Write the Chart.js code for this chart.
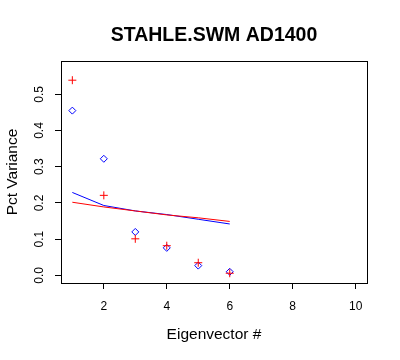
<!DOCTYPE html>
<html>
<head>
<meta charset="utf-8">
<script src="https://cdn.jsdelivr.net/npm/chart.js@4/dist/chart.umd.min.js"></script>
<style>
  html, body { margin: 0; padding: 0; background: #fff; }
  #wrap { width: 400px; height: 360px; }
</style>
</head>
<body>
<div id="wrap"><canvas id="chart" width="400" height="360"></canvas></div>
<script>
// ── Data ─────────────────────────────────────────────────────
const eigenX     = [1, 2, 3, 4, 5, 6];
const redPoints  = [0.539, 0.221, 0.101, 0.082, 0.035, 0.006];
const bluePoints = [0.455, 0.322, 0.120, 0.076, 0.027, 0.010];
const blueLine   = [0.229, 0.193, 0.178, 0.168, 0.155, 0.142];
const redLine    = [0.202, 0.189, 0.178, 0.167, 0.159, 0.149];
const xTicks     = [2, 4, 6, 8, 10];
const yTicks     = [0.0, 0.1, 0.2, 0.3, 0.4, 0.5];
const chartTitle = 'STAHLE.SWM AD1400';

const FONT = "'Liberation Sans', Arial, sans-serif";
const xy = (vals) => eigenX.map((x, i) => ({ x, y: vals[i] }));

// ── Box around plot, title over plot, rotated y tick labels (R style) ──
const rBox = {
    id: 'rBox',
    afterDraw(chart) {
        const { ctx, chartArea: a, scales } = chart;
        ctx.save();
        ctx.strokeStyle = '#000';
        ctx.lineWidth = 1;
        ctx.strokeRect(Math.round(a.left) + 0.5, Math.round(a.top) + 0.5,
                       Math.round(a.right - a.left), Math.round(a.bottom - a.top));
        ctx.fillStyle = '#000';
        ctx.textAlign = 'center';

        ctx.font = 'bold 19.5px ' + FONT;
        ctx.textBaseline = 'alphabetic';
        ctx.fillText(chartTitle, (a.left + a.right) / 2, 41);

        ctx.font = '12px ' + FONT;
        ctx.textBaseline = 'middle';
        yTicks.forEach(v => {
            const py = scales.y.getPixelForValue(v);
            ctx.save();
            ctx.translate(40, py);
            ctx.rotate(-Math.PI / 2);
            ctx.fillText(v.toFixed(1), 0, 0);
            ctx.restore();
        });
        ctx.restore();
    }
};

new Chart(document.getElementById('chart'), {
    type: 'scatter',
    data: {
        datasets: [
            { data: xy(redPoints), pointStyle: 'cross', pointRadius: 4, borderColor: '#ff0000',
              backgroundColor: '#ff0000', pointBorderWidth: 1, order: 0 },
            { data: xy(bluePoints), pointStyle: 'rectRot', pointRadius: 3.5, borderColor: '#0000ff',
              backgroundColor: 'rgba(0,0,0,0)', pointBorderWidth: 1, order: 1 },
            { data: xy(redLine), showLine: true, pointRadius: 0, borderColor: '#ff0000',
              borderWidth: 1, order: 2 },
            { data: xy(blueLine), showLine: true, pointRadius: 0, borderColor: '#0000ff',
              borderWidth: 1, order: 3 }
        ]
    },
    options: {
        responsive: false,
        animation: false,
        layout: { padding: { left: 0, right: 33, top: 61, bottom: 0 } },
        plugins: {
            legend: { display: false },
            tooltip: { enabled: false },
            title: { display: false }
        },
        scales: {
            x: {
                type: 'linear',
                min: 0.64, max: 10.36,
                afterBuildTicks: s => { s.ticks = xTicks.map(v => ({ value: v })); },
                afterFit: s => { s.height = 77; },
                grid: { drawOnChartArea: false, drawTicks: true, tickLength: 6, color: '#000' },
                border: { display: false },
                ticks: { color: '#000', font: { family: FONT, size: 12 }, padding: 10, maxRotation: 0 },
                title: { display: true, text: 'Eigenvector #', color: '#000',
                         font: { family: FONT, size: 15.5 }, padding: { top: 0, bottom: 16 } }
            },
            y: {
                type: 'linear',
                min: -0.021, max: 0.592,
                afterBuildTicks: s => { s.ticks = yTicks.map(v => ({ value: v })); },
                afterFit: s => { s.width = 61; },
                grid: { drawOnChartArea: false, drawTicks: true, tickLength: 6, color: '#000' },
                border: { display: false },
                ticks: { display: false },
                title: { display: true, text: 'Pct Variance', color: '#000',
                         font: { family: FONT, size: 15.5 }, padding: { top: 3, bottom: 0 } }
            }
        }
    },
    plugins: [rBox]
});
</script>
</body>
</html>
